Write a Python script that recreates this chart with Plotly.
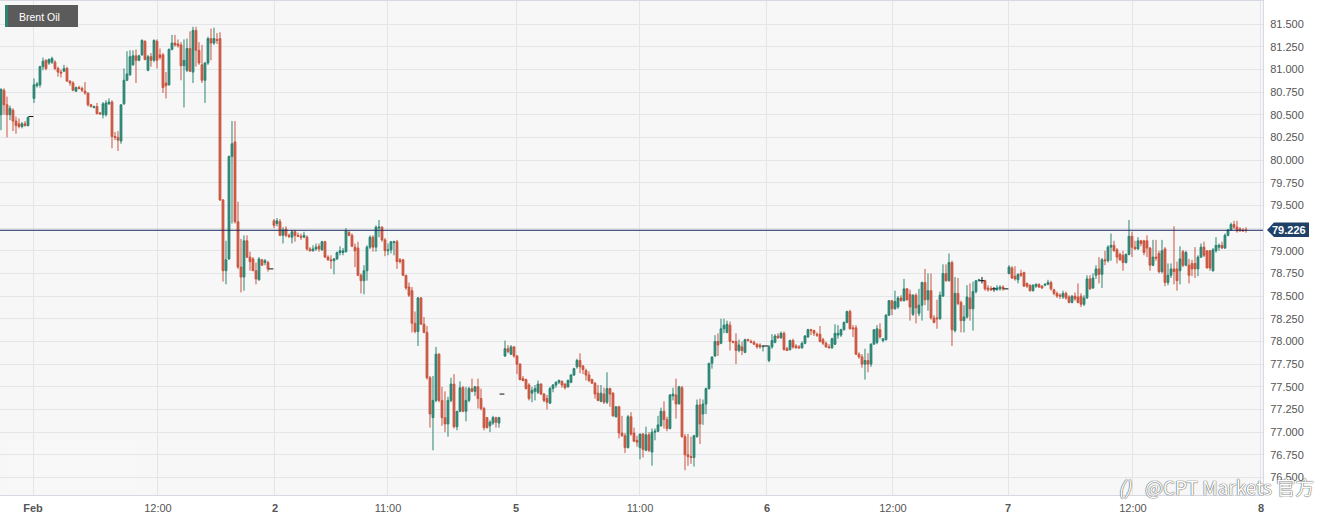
import plotly.graph_objects as go

# (open, high, low, close) per bar
feb_1 = [
    (80.50,80.79,80.33,80.78),(80.77,80.79,80.50,80.61),(80.61,80.70,80.25,80.50),(80.50,80.60,80.44,80.57),
    (80.55,80.57,80.32,80.43),(80.43,80.48,80.29,80.38),(80.40,80.46,80.35,80.37),(80.37,80.42,80.35,80.40),
    (80.40,80.43,80.37,80.38),(80.38,80.48,80.37,80.47),(80.48,80.48,80.48,80.48),(80.68,80.90,80.63,80.83),
    (80.82,80.86,80.80,80.84),(80.83,81.04,80.80,81.03),(81.03,81.13,80.99,81.09),(81.10,81.11,80.99,81.01),
    (81.07,81.12,81.05,81.11),(81.08,81.14,81.06,81.12),(81.08,81.10,80.99,81.01),(81.01,81.03,80.92,80.97),
    (80.97,81.00,80.91,80.96),(80.98,81.05,80.97,81.01),(81.01,81.03,80.87,80.87),(80.87,80.88,80.82,80.85),
    (80.85,80.87,80.76,80.77),(80.76,80.81,80.75,80.80),(80.80,80.82,80.78,80.79),(80.79,80.81,80.75,80.77),
    (80.76,80.86,80.72,80.74),(80.74,80.74,80.59,80.61),(80.61,80.62,80.58,80.59),(80.58,80.60,80.57,80.59),
    (80.59,80.63,80.51,80.51),(80.52,80.53,80.50,80.51),(80.50,80.64,80.46,80.62),(80.50,80.66,80.48,80.63),
    (80.62,80.68,80.61,80.64),(80.64,80.66,80.13,80.26),(80.26,80.31,80.22,80.25),(80.25,80.32,80.10,80.22),
    (80.21,80.61,80.18,80.61),(80.62,81.01,80.61,80.88),(80.88,81.20,80.87,80.95),(80.94,81.21,80.93,81.14),
    (81.05,81.21,81.04,81.15),(81.15,81.22,80.85,81.10),(81.10,81.16,81.09,81.15),(81.16,81.33,81.15,81.32),
    (81.31,81.32,81.10,81.11),(80.99,81.16,80.98,81.14),(81.14,81.18,81.03,81.10),(81.10,81.33,81.08,81.32),
    (81.31,81.33,81.01,81.10),(81.16,81.23,81.11,81.13),(81.16,81.18,80.74,80.80),(80.85,80.97,80.68,80.82),
    (80.83,81.23,80.82,81.22),(81.22,81.38,81.21,81.29),(81.29,81.38,81.25,81.27),(81.28,81.33,81.24,81.26),
    (81.27,81.30,80.88,81.04),(81.04,81.33,80.58,81.10),(80.99,81.34,80.97,81.23),(81.23,81.42,80.97,80.98),
    (80.97,81.47,80.85,81.43),(81.43,81.47,81.03,81.21),(81.21,81.30,81.05,81.07),(81.05,81.27,80.85,80.88),
    (80.88,81.08,80.63,81.07),(81.07,81.36,81.05,81.34),(81.34,81.45,81.10,81.29),(81.29,81.46,81.27,81.34),
    (81.33,81.40,81.28,81.32),(81.34,81.41,79.55,79.56),(79.56,79.57,78.66,78.78),(78.78,79.11,78.63,78.90),
    (78.91,80.05,78.90,80.04),(80.04,80.43,79.30,80.18),(80.20,80.43,79.30,79.32),(79.32,79.54,78.80,78.82),
    (78.82,79.13,78.54,78.71),(78.71,79.17,78.56,79.11),(79.11,79.17,78.92,78.93),(78.93,78.99,78.78,78.88),
    (78.91,78.93,78.78,78.78),(78.78,78.87,78.63,78.69),(78.68,78.93,78.67,78.91),(78.90,78.91,78.84,78.84),
    (78.87,78.91,78.84,78.89),(78.87,78.89,78.77,78.80),(78.80,78.80,78.80,78.80),
]
feb_2 = [
    (79.33,79.35,79.25,79.28),(79.30,79.36,79.27,79.33),(79.32,79.35,79.16,79.17),(79.17,79.26,79.08,79.23),
    (79.24,79.27,79.15,79.17),(79.17,79.19,79.14,79.16),(79.15,79.23,79.08,79.21),(79.21,79.23,79.10,79.17),
    (79.17,79.20,79.15,79.16),(79.16,79.19,79.12,79.15),(79.15,79.21,79.14,79.17),(79.15,79.17,79.00,79.02),
    (79.02,79.04,78.99,79.00),(79.00,79.06,78.99,79.02),(79.02,79.08,79.00,79.04),(79.05,79.08,78.99,79.02),
    (79.01,79.11,79.00,79.10),(79.10,79.11,78.92,78.93),(78.93,78.95,78.89,78.90),(78.90,78.95,78.80,78.89),
    (78.89,78.92,78.74,78.91),(78.91,78.99,78.90,78.98),(78.98,79.05,78.95,79.00),(78.98,79.03,78.95,79.00),
    (78.99,79.25,78.98,79.22),(79.20,79.22,79.16,79.17),(79.17,79.19,79.04,79.05),(79.04,79.08,78.82,79.00),
    (79.03,79.10,78.72,78.73),(78.73,78.75,78.53,78.67),(78.67,78.84,78.52,78.78),(78.78,79.06,78.67,79.04),
    (79.04,79.17,79.02,79.15),(79.15,79.17,78.99,79.04),(79.04,79.28,78.99,79.26),(79.25,79.34,79.15,79.26),
    (79.26,79.27,79.10,79.12),(79.12,79.14,78.94,79.00),(79.00,79.08,78.95,79.01),(79.01,79.10,78.97,79.10),
    (79.09,79.11,78.95,79.10),(79.10,79.12,78.80,78.88),(78.90,78.92,78.86,78.88),(78.90,78.91,78.72,78.73),
    (78.73,78.73,78.57,78.59),(78.60,78.65,78.49,78.51),(78.56,78.60,78.10,78.20),(78.20,78.33,78.09,78.11),
    (78.11,78.49,77.95,78.48),(78.48,78.49,78.19,78.19),(78.19,78.27,78.09,78.10),(78.10,78.17,77.58,77.60),
    (77.60,77.62,77.05,77.20),(77.16,77.62,76.80,77.35),(77.35,77.94,77.33,77.86),(77.86,77.87,77.33,77.35),
    (77.35,77.50,77.07,77.16),(77.16,77.45,77.00,77.09),(77.09,77.39,76.95,77.35),(77.35,77.60,77.33,77.53),
    (77.53,77.64,77.04,77.06),(77.06,77.23,77.02,77.23),(77.23,77.56,77.22,77.49),(77.49,77.51,77.22,77.23),
    (77.23,77.50,77.12,77.35),(77.35,77.50,77.33,77.48),(77.48,77.59,77.44,77.45),(77.45,77.51,77.40,77.50),
    (77.50,77.59,77.26,77.37),(77.37,77.48,77.24,77.26),(77.26,77.28,77.02,77.05),(77.16,77.16,77.04,77.05),
    (77.07,77.13,77.00,77.11),(77.10,77.18,77.08,77.16),(77.16,77.17,77.05,77.11),(77.10,77.17,77.05,77.16),
    (77.42,77.42,77.42,77.42),
]
feb_5 = [
    (77.84,78.01,77.83,77.92),(77.92,77.96,77.87,77.89),(77.86,77.96,77.85,77.94),(77.94,77.95,77.82,77.84),
    (77.84,77.85,77.64,77.75),(77.75,77.76,77.57,77.58),(77.59,77.62,77.56,77.57),(77.58,77.59,77.47,77.48),
    (77.52,77.54,77.35,77.37),(77.43,77.50,77.33,77.46),(77.45,77.52,77.35,77.48),(77.44,77.57,77.42,77.53),
    (77.53,77.54,77.41,77.42),(77.42,77.43,77.33,77.35),(77.37,77.41,77.25,77.33),(77.32,77.50,77.31,77.48),
    (77.48,77.53,77.44,77.52),(77.52,77.56,77.49,77.55),(77.55,77.58,77.53,77.57),(77.56,77.57,77.49,77.52),
    (77.53,77.54,77.47,77.49),(77.50,77.58,77.49,77.57),(77.55,77.64,77.54,77.63),(77.63,77.71,77.62,77.70),
    (77.72,77.81,77.70,77.79),(77.79,77.87,77.65,77.72),(77.73,77.74,77.64,77.69),(77.68,77.70,77.57,77.63),
    (77.63,77.67,77.55,77.57),(77.58,77.59,77.53,77.54),(77.54,77.55,77.37,77.42),(77.43,77.52,77.34,77.35),
    (77.34,77.52,77.33,77.43),(77.42,77.49,77.31,77.33),(77.33,77.66,77.31,77.48),(77.48,77.49,77.28,77.42),
    (77.43,77.44,77.17,77.18),(77.17,77.28,77.16,77.28),(77.28,77.29,76.93,76.99),(76.99,77.18,76.95,76.96),
    (76.96,76.99,76.77,76.83),(76.83,77.19,76.82,77.17),(77.17,77.22,76.96,76.98),(76.99,77.05,76.89,76.90),
    (76.91,76.96,76.84,76.89),(76.83,76.98,76.70,76.98),(76.98,76.99,76.72,76.81),(76.80,77.06,76.79,76.97),
    (76.97,77.00,76.78,76.80),(76.78,77.04,76.63,77.00),(77.00,77.04,76.91,77.01),(77.01,77.18,77.00,77.08),
    (77.07,77.27,77.06,77.23),(77.23,77.34,77.04,77.14),(77.14,77.17,77.01,77.04),(77.04,77.42,77.03,77.41),
    (77.40,77.49,77.35,77.42),(77.41,77.59,77.15,77.31),(77.31,77.51,77.31,77.50),(77.49,77.51,76.94,76.95),
    (76.95,76.98,76.58,76.75),(76.75,76.98,76.63,76.73),(76.73,76.95,76.65,76.72),(76.72,76.97,76.62,76.96),
    (76.95,77.36,76.94,77.30),(77.30,77.37,76.87,77.09),(77.20,77.36,77.08,77.31),(77.31,77.49,77.20,77.48),
    (77.48,77.76,77.47,77.76),(77.76,77.83,77.70,77.83),(77.84,78.07,77.83,78.00),(78.00,78.09,77.84,77.96),
    (77.98,78.25,77.97,78.14),(78.14,78.25,78.09,78.18),(78.10,78.23,78.09,78.19),(78.18,78.22,77.90,78.00),
    (78.00,78.01,77.98,77.99),(78.00,78.09,77.75,77.90),(77.90,78.02,77.88,77.96),(77.94,78.00,77.85,77.90),
    (77.88,78.03,77.87,78.02),(78.02,78.03,78.00,78.01),(78.00,78.02,77.98,77.99),(77.99,78.01,77.96,77.97),
    (77.97,77.98,77.92,77.94),(77.96,77.98,77.92,77.94),(77.94,77.96,77.89,77.95),(77.95,77.95,77.95,77.95),
]
feb_6 = [
    (77.79,77.96,77.77,77.94),(77.94,78.08,77.92,78.01),(77.99,78.08,77.98,78.06),(78.06,78.09,78.03,78.04),
    (78.04,78.11,78.03,78.09),(78.09,78.11,77.90,77.91),(77.92,77.94,77.90,77.90),(77.91,78.02,77.90,78.01),
    (78.01,78.03,77.92,77.94),(77.95,77.97,77.92,77.93),(77.94,77.96,77.92,77.93),(77.93,78.00,77.92,77.98),
    (77.98,78.07,77.97,78.06),(78.05,78.14,78.04,78.13),(78.13,78.14,78.07,78.12),(78.12,78.13,78.06,78.09),
    (78.08,78.10,78.05,78.07),(78.08,78.17,77.99,78.00),(78.02,78.04,77.96,77.98),(77.98,78.00,77.93,77.94),
    (77.94,77.97,77.93,77.93),(77.93,78.04,77.92,78.03),(77.97,78.19,77.96,78.09),(78.07,78.18,78.03,78.09),
    (78.07,78.14,78.05,78.13),(78.13,78.22,78.12,78.21),(78.21,78.34,78.20,78.33),(78.33,78.35,78.13,78.14),
    (78.15,78.18,78.05,78.14),(78.15,78.18,77.85,77.86),(77.86,77.88,77.81,77.83),(77.83,77.86,77.71,77.75),
    (77.75,77.92,77.58,77.79),(77.79,77.87,77.66,77.75),(77.75,77.98,77.72,77.97),(77.97,78.13,77.97,78.13),
    (77.99,78.18,77.97,78.14),(78.13,78.20,78.03,78.05),(78.01,78.03,77.99,78.03),(78.02,78.30,78.01,78.29),
    (78.29,78.45,78.28,78.45),(78.45,78.45,78.29,78.36),(78.36,78.56,78.35,78.44),(78.38,78.50,78.36,78.48),
    (78.48,78.51,78.44,78.45),(78.45,78.69,78.44,78.58),(78.58,78.59,78.45,78.46),(78.52,78.57,78.23,78.38),
    (78.30,78.52,78.28,78.51),(78.51,78.53,78.20,78.37),(78.31,78.58,78.28,78.40),(78.40,78.66,78.23,78.65),
    (78.65,78.80,78.40,78.46),(78.46,78.75,78.34,78.56),(78.56,78.75,78.24,78.26),(78.26,78.29,78.20,78.21),
    (78.26,78.46,78.14,78.25),(78.25,78.55,78.24,78.51),(78.50,78.85,78.49,78.75),(78.75,78.85,78.66,78.67),
    (78.67,78.97,78.66,78.87),(78.87,78.89,77.95,78.13),(78.12,78.71,78.10,78.53),(78.53,78.70,78.40,78.42),
    (78.43,78.45,78.10,78.23),(78.23,78.40,78.10,78.27),(78.27,78.62,78.25,78.49),(78.48,78.64,78.23,78.36),
    (78.36,78.66,78.12,78.55),(78.55,78.67,78.53,78.67),(78.67,78.69,78.66,78.68),(78.67,78.71,78.64,78.67),
    (78.67,78.68,78.56,78.58),(78.59,78.62,78.55,78.57),(78.58,78.61,78.56,78.57),(78.58,78.60,78.55,78.58),
    (78.57,78.62,78.56,78.59),(78.58,78.62,78.56,78.60),(78.60,78.62,78.56,78.58),(78.58,78.58,78.58,78.58),
]
feb_7 = [
    (78.75,78.84,78.74,78.82),(78.81,78.83,78.69,78.70),(78.72,78.83,78.67,78.69),(78.68,78.75,78.64,78.74),
    (78.75,78.79,78.71,78.73),(78.76,78.77,78.60,78.61),(78.64,78.65,78.59,78.61),(78.62,78.63,78.55,78.56),
    (78.56,78.63,78.55,78.62),(78.61,78.64,78.59,78.63),(78.63,78.64,78.59,78.60),(78.61,78.62,78.58,78.59),
    (78.62,78.64,78.61,78.63),(78.63,78.68,78.62,78.65),(78.65,78.67,78.56,78.58),(78.57,78.58,78.51,78.53),
    (78.53,78.55,78.48,78.50),(78.51,78.53,78.47,78.50),(78.49,78.56,78.47,78.53),(78.53,78.55,78.46,78.48),
    (78.49,78.51,78.42,78.43),(78.43,78.51,78.42,78.50),(78.50,78.54,78.45,78.47),(78.49,78.64,78.42,78.43),
    (78.50,78.53,78.38,78.41),(78.41,78.51,78.39,78.48),(78.48,78.73,78.47,78.69),(78.69,78.73,78.57,78.58),
    (78.59,78.75,78.58,78.70),(78.73,78.84,78.69,78.80),(78.80,78.93,78.64,78.74),(78.74,78.92,78.59,78.90),
    (78.90,79.00,78.84,78.89),(78.89,79.06,78.87,79.04),(79.04,79.19,78.89,79.06),(79.06,79.11,78.99,79.00),
    (79.01,79.03,78.86,78.93),(78.96,78.98,78.89,78.90),(78.95,79.00,78.78,78.87),(78.87,78.97,78.86,78.96),
    (78.96,79.34,78.95,79.16),(79.16,79.21,78.93,79.04),(79.04,79.11,79.01,79.02),(79.02,79.15,79.01,79.11),
    (79.11,79.12,79.05,79.08),(79.11,79.12,78.95,78.98),(79.11,79.17,78.93,79.03),(79.03,79.04,78.78,78.84),
    (78.84,79.12,78.83,78.93),(78.93,79.12,78.89,78.92),(78.97,79.00,78.75,78.77),(78.77,79.12,78.75,79.00),
    (79.02,79.04,78.61,78.65),(78.65,78.86,78.62,78.73),(78.73,78.86,78.70,78.80),(78.80,79.27,78.63,78.77),
    (78.80,78.88,78.56,78.67),(78.78,79.05,78.63,78.91),(78.99,79.01,78.82,78.84),(78.84,79.00,78.83,78.98),
    (78.84,78.91,78.64,78.73),(78.86,78.90,78.72,78.80),(78.86,79.04,78.70,78.80),(78.80,78.95,78.72,78.93),
    (78.93,79.08,78.92,79.04),(79.04,79.10,78.93,78.95),(79.00,79.00,78.81,78.81),(79.00,79.01,78.78,78.81),
    (78.78,79.03,78.77,79.01),(79.00,79.15,78.98,79.06),(79.04,79.08,79.00,79.06),(79.06,79.10,79.02,79.03),
    (79.03,79.19,79.02,79.17),(79.17,79.24,79.16,79.23),(79.23,79.31,79.22,79.29),(79.29,79.33,79.24,79.26),
    (79.26,79.33,79.20,79.22),(79.24,79.26,79.21,79.22),(79.23,79.25,79.21,79.22),(79.23,79.26,79.20,79.226),
]

last_price = 79.226
tick_bars = [10.67, 52.33, 91.33, 129, 171.67, 213, 255.33, 297.33, 335.67, 377.33, 420]
tick_labels = ["<b>Feb</b>", "12:00", "<b>2</b>", "11:00", "<b>5</b>", "11:00", "<b>6</b>", "12:00", "<b>7</b>", "12:00", "<b>8</b>"]
price_ticks = [76.5, 76.75, 77.0, 77.25, 77.5, 77.75, 78.0, 78.25, 78.5, 78.75, 79.0, 79.25,
               79.5, 79.75, 80.0, 80.25, 80.5, 80.75, 81.0, 81.25, 81.5]
# 79.250 sits under the last price tag, so it has no label
price_labels = ["" if p == 79.25 else f"{p:.3f}" for p in price_ticks]

GREEN = "#2a8472"
RED = "#c9553f"
FONT = "Liberation Sans, Arial, sans-serif"
PLOT_W = 1263
PLOT_H = 494

bars = feb_1 + feb_2 + feb_5 + feb_6 + feb_7
opens, highs, lows, closes = zip(*bars)
x = list(range(len(bars)))

# flat bars are drawn as black ticks, everything else green/red
moving = [i for i in x if opens[i] != closes[i]]
flat = [i for i in x if opens[i] == closes[i]]


def pick(values, idx):
    return [values[i] for i in idx]


fig = go.Figure()
fig.add_trace(go.Candlestick(
    x=moving,
    open=pick(opens, moving), high=pick(highs, moving),
    low=pick(lows, moving), close=pick(closes, moving),
    increasing=dict(line=dict(color=GREEN, width=1), fillcolor=GREEN),
    decreasing=dict(line=dict(color=RED, width=1), fillcolor=RED),
    whiskerwidth=0, showlegend=False,
))
fig.add_trace(go.Ohlc(
    x=flat,
    open=pick(opens, flat), high=pick(highs, flat),
    low=pick(lows, flat), close=pick(closes, flat),
    increasing=dict(line=dict(color="#111111", width=1)),
    decreasing=dict(line=dict(color="#111111", width=1)),
    tickwidth=0.2, showlegend=False,
))

fig.update_layout(
    width=1328, height=521,
    margin=dict(l=0, r=65, t=1, b=26),
    paper_bgcolor="white",
    plot_bgcolor="#f7f7f8",
    font=dict(family=FONT, size=11, color="#555555"),
    showlegend=False,
    boxgap=0.15,
    xaxis=dict(
        range=[-0.33, 420.67], rangeslider=dict(visible=False),
        tickmode="array", tickvals=tick_bars, ticktext=tick_labels,
        showgrid=True, gridcolor="#e4e5e8", gridwidth=1, zeroline=False,
        ticks="", ticklabelstandoff=3, showline=True, linecolor="#d6d9e2", mirror=True,
    ),
    yaxis=dict(
        range=[76.307, 81.754], side="right",
        tickmode="array", tickvals=price_ticks, ticktext=price_labels,
        showgrid=True, gridcolor="#e4e5e8", gridwidth=1, zeroline=False,
        ticks="", ticklabelstandoff=4, showline=True, linecolor="#d6d9e2", mirror=True,
    ),
)


def px(v):
    return v / PLOT_W


def py(v):
    return 1 - (v - 1) / PLOT_H


def label(x_px, y_px, text, font, xanchor="left"):
    fig.add_annotation(xref="paper", yref="paper", x=px(x_px), y=py(y_px), text=text,
                       xanchor=xanchor, yanchor="middle", showarrow=False, font=font)


# patch of lighter background at lower left, covers the grid
fig.add_shape(type="rect", xref="paper", yref="paper", layer="between",
              x0=px(8), x1=px(136), y0=py(490), y1=py(440),
              fillcolor="#f8f8f8", line_width=0)
# price line and its tag
fig.add_shape(type="line", xref="paper", yref="y", x0=0, x1=1, y0=last_price, y1=last_price,
              line=dict(color="#1a2a5c", width=1))
fig.add_shape(type="path", xref="paper", yref="paper",
              path=f"M {px(1267)} {py(230)} L {px(1274)} {py(222.5)} L {px(1309)} {py(222.5)} "
                   f"L {px(1309)} {py(237)} L {px(1274)} {py(237)} Z",
              fillcolor="#1f4167", line_width=0)
label(1289, 230, "<b>79.226</b>", dict(color="white", size=11, family=FONT), xanchor="center")
# name box
fig.add_shape(type="rect", xref="paper", yref="paper", x0=px(5), x1=px(78), y0=py(27), y1=py(5),
              fillcolor="#5b5b5b", line_width=0)
fig.add_shape(type="rect", xref="paper", yref="paper", x0=px(5), x1=px(8), y0=py(27), y1=py(5),
              fillcolor=GREEN, line_width=0)
label(17, 16.5, "Brent Oil", dict(color="white", size=10.5, family=FONT))
# watermark
mark_font = dict(color="white", size=19, family="Noto Sans CJK SC, " + FONT,
                 shadow="0 0 1px #444, 0 0 1px #444")
label(1143, 486, "@CPT Markets 官方", mark_font)
label(1125, 486, "<i>()</i>", mark_font, xanchor="center")

fig.write_html("out.html", config={"displayModeBar": False},
               post_script="document.body.style.margin='0';")
